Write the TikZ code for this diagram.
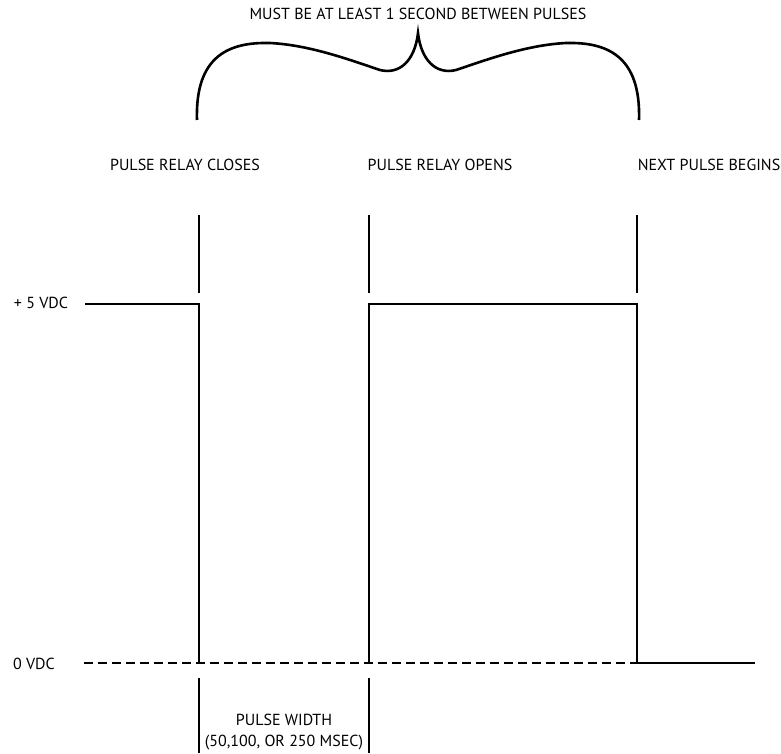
\documentclass[tikz,border=0pt]{standalone}
\usepackage{fontspec}
\setmainfont{PT Sans}
\begin{document}
\begin{tikzpicture}[x=1pt,y=-1pt,
  lbl/.style={inner sep=0pt,font=\fontsize{16}{21}\selectfont},
  wave/.style={line width=2.8pt},
  tick/.style={line width=2.6pt},
  zero/.style={line width=2.8pt,dash pattern=on 9pt off 5pt}]
\useasboundingbox (0,0) rectangle (781,753);
% labels
\node[lbl] (top) at (418,14) {MUST BE AT LEAST 1 SECOND BETWEEN PULSES};
\node[lbl] (closes) at (185,165) {PULSE RELAY CLOSES};
\node[lbl] (opens) at (440,165) {PULSE RELAY OPENS};
\node[lbl] (next) at (709,165) {NEXT PULSE BEGINS};
\node[lbl] (plus) at (41,303) {+ 5 VDC};
\node[lbl] (zerol) at (34,664) {0 VDC};
\node[lbl,align=center] (width) at (284,732) {PULSE WIDTH\\(50,100, OR 250 MSEC)};
% coordinates
\coordinate (a0) at (85,304);
\coordinate (a1) at (199,304);
\coordinate (a2) at (199,663);
\coordinate (b0) at (369,663);
\coordinate (b1) at (369,304);
\coordinate (c1) at (637,304);
\coordinate (c2) at (637,663);
\coordinate (c3) at (755,663);
\coordinate (d0) at (84,663);
% brace
\draw[line width=2.6pt] (197,120) .. controls (195,55) and (230,42) .. (270,43)
  .. controls (310,45) and (350,60) .. (380,70)
  .. controls (400,75) and (415,60) .. (418,33)
  .. controls (421,60) and (436,75) .. (456,70)
  .. controls (486,60) and (526,45) .. (566,43)
  .. controls (606,42) and (641,55) .. (639,120);
% ticks
\draw[tick] (199,215) -- (199,293);
\draw[tick] (369,215) -- (369,293);
\draw[tick] (637,215) -- (637,293);
\draw[tick] (199,678) -- (199,753);
\draw[tick] (369,678) -- (369,753);
% zero dashed
\draw[zero] (d0) -- (c2);
% waveform
\draw[wave] (a0) -- (a1) -- (a2);
\draw[wave] (b0) -- (b1) -- (c1) -- (c2) -- (c3);
\end{tikzpicture}
\end{document}
